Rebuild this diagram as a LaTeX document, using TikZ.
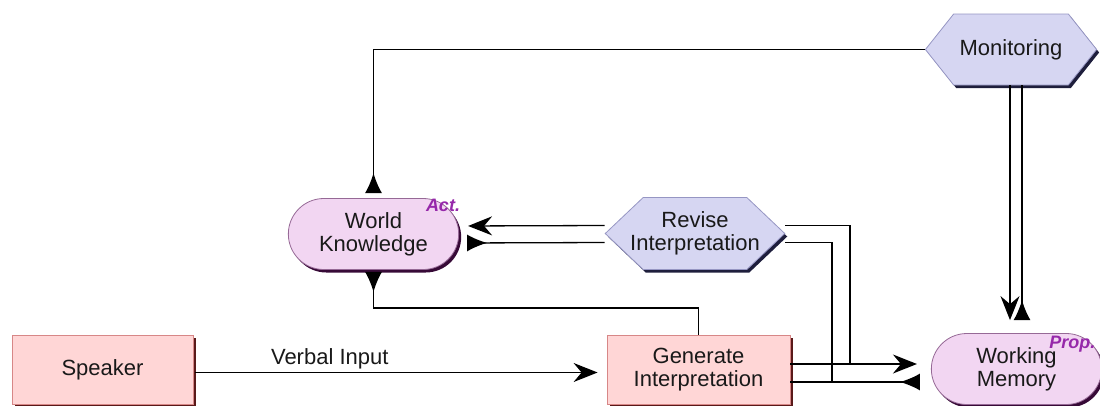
\documentclass[tikz,border=0pt]{standalone}
\usepackage{fontspec}
\setmainfont{Liberation Sans}
\usepackage{tikz}
\usetikzlibrary{arrows.meta,shapes.misc,shapes.symbols,shadows}

\definecolor{boxpink}{RGB}{255,214,214}
\definecolor{boxpinkline}{RGB}{215,135,135}
\definecolor{boxpinkshade}{RGB}{90,25,25}
\definecolor{memfill}{RGB}{242,214,242}
\definecolor{memline}{RGB}{150,105,150}
\definecolor{memshade}{RGB}{55,10,55}
\definecolor{hexfill}{RGB}{214,214,242}
\definecolor{hexline}{RGB}{150,150,195}
\definecolor{hexshade}{RGB}{30,30,60}
\definecolor{tagpurple}{RGB}{150,40,170}
\definecolor{inktext}{RGB}{25,25,25}

\begin{document}
\begin{tikzpicture}[x=1pt,y=-1pt,
	every node/.style={font=\fontsize{22}{23}\selectfont, text=inktext, align=center},
	procbox/.style={rectangle, draw=boxpinkline, fill=boxpink, line width=0.8pt,
		drop shadow={shadow xshift=2.5pt, shadow yshift=-2.5pt, fill=boxpinkshade, opacity=1}},
	storebox/.style={rounded rectangle, draw=memline, fill=memfill, line width=0.8pt,
		minimum width=177pt, minimum height=71pt,
		drop shadow={shadow xshift=2.5pt, shadow yshift=-3pt, fill=memshade, opacity=1}},
	hexbox/.style={signal, signal to=west and east,
		draw=hexline, fill=hexfill, line width=0.8pt, minimum height=72pt,
		drop shadow={shadow xshift=2.5pt, shadow yshift=-3pt, fill=hexshade, opacity=1}},
	tag/.style={font=\fontsize{18}{18}\selectfont\bfseries\itshape, text=tagpurple},
	link/.style={line width=1.3pt},
	tipin/.style={link, -{Stealth[length=24pt,width=19pt,inset=8pt]}},
	tipout/.style={link, {Latex[reversed,length=20pt,width=17pt]}-}]
	\clip (0,0) rectangle (1100,405);
	% boxes
	\node[procbox, minimum width=181pt, minimum height=69pt] (spk) at (102.5,369.5) {Speaker};
	\node[procbox, minimum width=183pt, minimum height=69pt] (gen) at (698.5,369.5) {Generate\\Interpretation};
	\node[storebox] (wk) at (373.5,234) {World\\Knowledge};
	\node[storebox] (wm) at (1016.5,369) {Working\\Memory};
	\node[hexbox, signal pointer angle=87, inner xsep=-13pt] (rev) at (695,233.5) {Revise\\Interpretation};
	\node[hexbox, signal pointer angle=103, inner xsep=6pt, minimum height=71pt] (mon) at (1011,49.5) {Monitoring};
	\node[tag] (act) at (443,205) {Act.};
	\node[tag, anchor=east] (prop) at (1099,344) {Prop.};
	% connectors
	\draw[tipin, shorten <=2pt, shorten >=9pt] ([yshift=-3pt]spk.east) -- ([yshift=-3pt]gen.west)
		node[pos=0.33, above=-1pt] (vin) {Verbal Input};
	\draw[tipout, shorten <=5pt] (wk.north) |- (mon.west);
	\draw[tipout, shorten <=2pt] (wk.south) -- ++(0,38) -| (gen.north);
	\draw[tipin, shorten >=9pt] ([yshift=8pt]rev.west) -- ([yshift=8pt]wk.east);
	\draw[tipout, shorten <=8pt] ([yshift=-9pt]wk.east) -- ([yshift=-9pt]rev.west);
	\coordinate (j1) at (850,364);
	\coordinate (j2) at (832,382);
	\draw[link] ([yshift=8pt]rev.east) -| (j1);
	\draw[link] ([yshift=-9pt]rev.east) -| (j2);
	\draw[tipin, shorten >=14pt] (gen.east |- j1) -- (wm.west |- j1);
	\draw[tipout, shorten <=11pt] (wm.west |- j2) -- (gen.east |- j2);
	\draw[tipin, shorten >=13pt] ([xshift=-1pt]mon.south) -- ([xshift=-1pt]mon.south |- wm.north);
	\draw[tipout, shorten <=13pt] ([xshift=11pt]mon.south |- wm.north) -- ([xshift=11pt]mon.south);
\end{tikzpicture}
\end{document}
